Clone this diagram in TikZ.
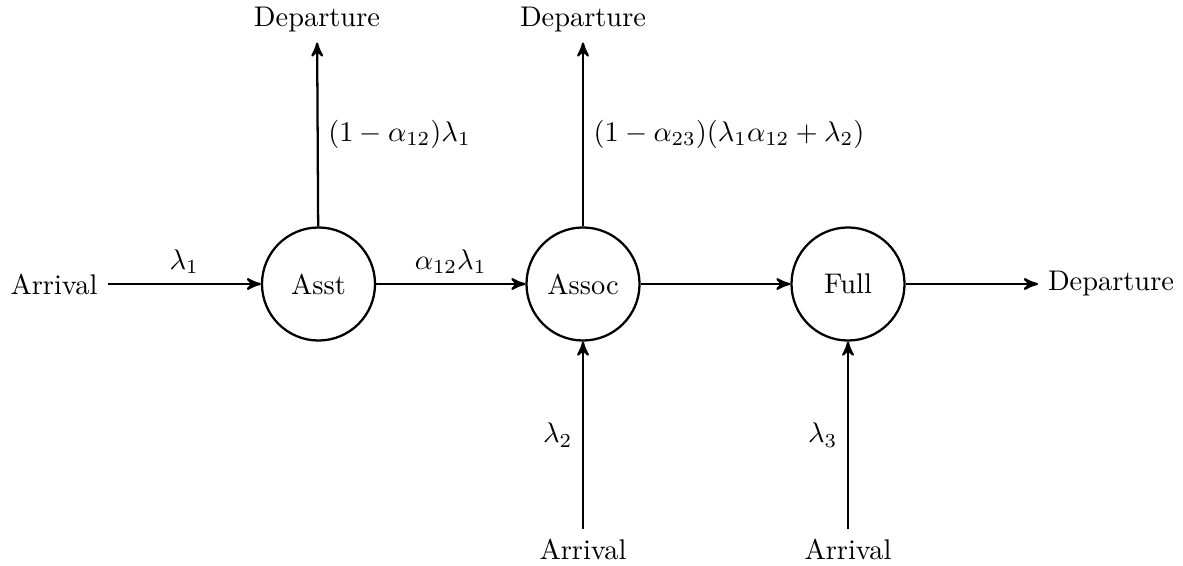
\documentclass[tikz,border=0pt]{standalone}
\usetikzlibrary{arrows}
\begin{document}
\begin{tikzpicture}[x=0.3521pt,y=-0.3521pt,
  station/.style={draw,circle,thick,minimum size=39.8pt,inner sep=0pt},
  flow/.style={-stealth',thick},
  lbl/.style={inner sep=3.33pt}]
\useasboundingbox (0,0) rectangle (1183,565);
\node[station] (asst) at (318.5,284) {Asst};
\node[station] (assoc) at (583,284) {Assoc};
\node[station] (full) at (848,284) {Full};
\node (arrL) at (54,284) {Arrival};
\node (depA) at (317,20) {Departure};
\node (depB) at (583,20) {Departure};
\node (depR) at (1111,284) {Departure};
\node (arrB) at (583,549) {Arrival};
\node (arrC) at (848,549) {Arrival};
\draw[flow] (arrL) -- node[above] {$\lambda_1$} (asst);
\draw[flow] (asst) -- node[above] {$\alpha_{12}\lambda_1$} (assoc);
\draw[flow] (assoc) -- (full);
\draw[flow] (full) -- (depR);
\draw[flow] (asst) -- node[right] {$(1-\alpha_{12})\lambda_1$} (depA);
\draw[flow] (assoc) -- node[right] {$(1-\alpha_{23})(\lambda_1\alpha_{12}+\lambda_2)$} (depB);
\draw[flow] (arrB) -- node[left] {$\lambda_2$} (assoc);
\draw[flow] (arrC) -- node[left] {$\lambda_3$} (full);
\end{tikzpicture}
\end{document}
